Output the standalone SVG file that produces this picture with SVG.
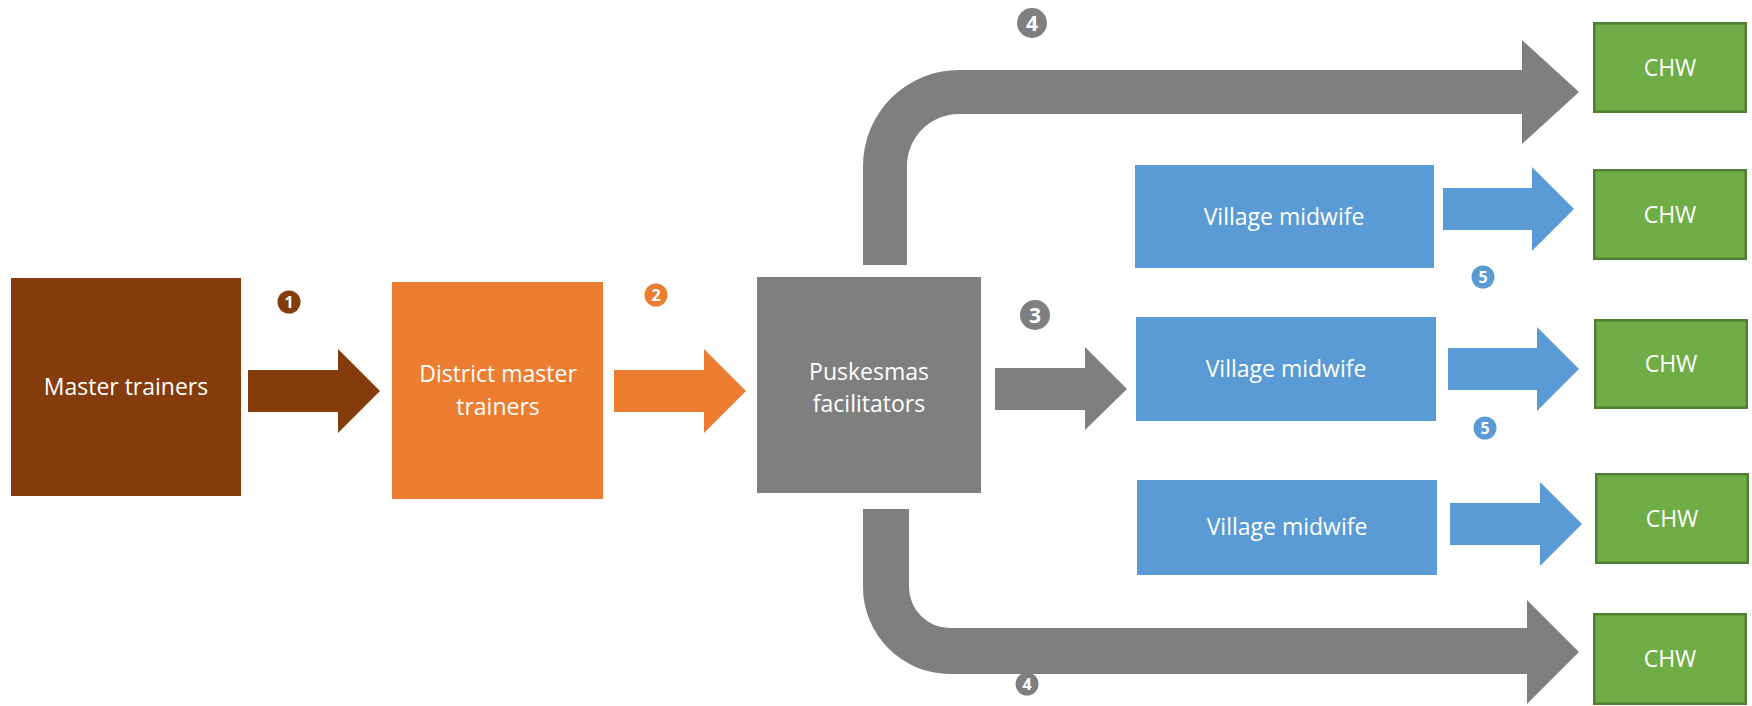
<svg xmlns="http://www.w3.org/2000/svg" width="1752" height="706" viewBox="0 0 1752 706">
  <style>
    .lbl { font-family: "Open Sans", "Liberation Sans", sans-serif; font-size: 23px; fill: #ffffff; text-anchor: middle; }
    .num { font-family: "Open Sans", "Liberation Sans", sans-serif; font-weight: bold; fill: #ffffff; text-anchor: middle; }
    .brown { fill: #843C0C; }
    .orange { fill: #ED7D31; }
    .gray { fill: #7F7F7F; }
    .blue { fill: #5B9BD5; }
    .chw { fill: #70AD47; stroke: #507E32; stroke-width: 2.5; }
  </style>
  <rect width="1752" height="706" fill="#ffffff"/>

  <!-- connectors: block arrows -->
  <g id="connectors">
    <polygon class="brown" points="248,370 338,370 338,349 380,391 338,433 338,412 248,412"/>
    <polygon class="orange" points="614,370 704,370 704,349 746,391 704,433 704,412 614,412"/>
    <polygon class="gray" points="995,368 1085,368 1085,347 1127,389 1085,430 1085,410 995,410"/>
    <path class="gray" d="M863 265 L863 166 A96 96 0 0 1 959 70 L1522 70 L1522 40 L1579 92 L1522 144 L1522 114 L959 114 A52 52 0 0 0 907 166 L907 265 Z"/>
    <path class="gray" d="M863 509 L909 509 L909 587 A41 41 0 0 0 950 628 L1527 628 L1527 600 L1579 652 L1527 704 L1527 674 L950 674 A87 87 0 0 1 863 587 Z"/>
    <polygon class="blue" points="1443,188 1532,188 1532,167 1574,209 1532,251 1532,230 1443,230"/>
    <polygon class="blue" points="1448,348 1537,348 1537,327 1579,369 1537,411 1537,390 1448,390"/>
    <polygon class="blue" points="1450,503 1540,503 1540,482 1582,524 1540,566 1540,545 1450,545"/>
  </g>

  <!-- step numbers -->
  <g id="steps">
    <circle cx="289" cy="302" r="11.5" fill="#843C0C"/>
    <text class="num" x="289" y="308" font-size="16">1</text>
    <circle cx="656" cy="295" r="11.5" fill="#ED7D31"/>
    <text class="num" x="656" y="301" font-size="16">2</text>
    <circle cx="1035" cy="315" r="15" fill="#7F7F7F"/>
    <text class="num" x="1035" y="323" font-size="21">3</text>
    <circle cx="1032" cy="23" r="15" fill="#7F7F7F"/>
    <text class="num" x="1032" y="31" font-size="21">4</text>
    <circle cx="1027" cy="684" r="11.5" fill="#7F7F7F"/>
    <text class="num" x="1027" y="690" font-size="16">4</text>
    <circle cx="1483" cy="277" r="11.5" fill="#5B9BD5"/>
    <text class="num" x="1483" y="283" font-size="16">5</text>
    <circle cx="1485" cy="428" r="11.5" fill="#5B9BD5"/>
    <text class="num" x="1485" y="434" font-size="16">5</text>
  </g>

  <g id="master-trainers">
    <rect class="brown" x="11" y="278" width="230" height="218"/>
    <text class="lbl" x="126" y="395">Master trainers</text>
  </g>
  <g id="district-master-trainers">
    <rect class="orange" x="392" y="282" width="211" height="217"/>
    <text class="lbl" x="498" y="382">District master</text>
    <text class="lbl" x="498" y="415">trainers</text>
  </g>
  <g id="puskesmas-facilitators">
    <rect class="gray" x="757" y="277" width="224" height="216"/>
    <text class="lbl" x="869" y="380">Puskesmas</text>
    <text class="lbl" x="869" y="412">facilitators</text>
  </g>

  <g id="village-midwife-1">
    <rect class="blue" x="1135" y="165" width="299" height="103"/>
    <text class="lbl" x="1284" y="225">Village midwife</text>
  </g>
  <g id="village-midwife-2">
    <rect class="blue" x="1136" y="317" width="300" height="104"/>
    <text class="lbl" x="1286" y="377">Village midwife</text>
  </g>
  <g id="village-midwife-3">
    <rect class="blue" x="1137" y="480" width="300" height="95"/>
    <text class="lbl" x="1287" y="535">Village midwife</text>
  </g>

  <g id="chw-1">
    <rect class="chw" x="1594.25" y="23.25" width="151.5" height="88.5"/>
    <text class="lbl" x="1670" y="76">CHW</text>
  </g>
  <g id="chw-2">
    <rect class="chw" x="1594.25" y="170.25" width="151.5" height="88.5"/>
    <text class="lbl" x="1670" y="223">CHW</text>
  </g>
  <g id="chw-3">
    <rect class="chw" x="1595.25" y="320.25" width="151.5" height="87.5"/>
    <text class="lbl" x="1671" y="372">CHW</text>
  </g>
  <g id="chw-4">
    <rect class="chw" x="1596.25" y="474.25" width="151.5" height="88.5"/>
    <text class="lbl" x="1672" y="527">CHW</text>
  </g>
  <g id="chw-5">
    <rect class="chw" x="1594.25" y="614.25" width="151.5" height="89.5"/>
    <text class="lbl" x="1670" y="667">CHW</text>
  </g>
</svg>
